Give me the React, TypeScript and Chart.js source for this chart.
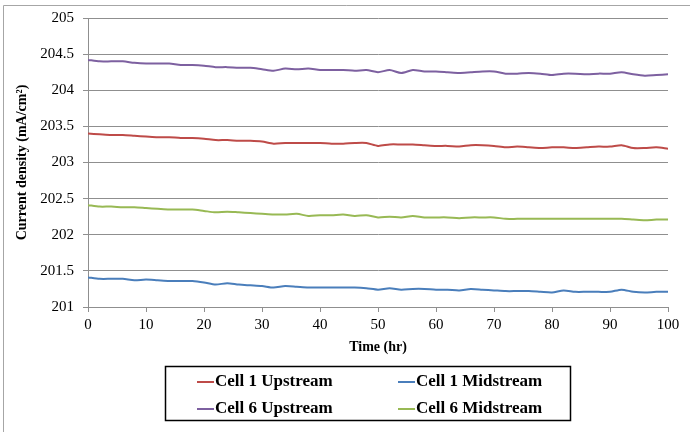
import React, { useEffect, useRef } from "react";
import { Chart, registerables } from "chart.js";

Chart.register(...registerables);

const hours = [0, 2, 4, 6, 8, 10, 12, 14, 16, 18, 20, 22, 24, 26, 28, 30, 32, 34, 36, 38, 40, 42, 44, 46, 48, 50, 52, 54, 56, 58, 60, 62, 64, 66, 68, 70, 72, 74, 76, 78, 80, 82, 84, 86, 88, 90, 92, 94, 96, 98, 100];

const cell1Upstream = [203.40, 203.39, 203.38, 203.38, 203.37, 203.36, 203.35, 203.35, 203.34, 203.34, 203.33, 203.31, 203.31, 203.30, 203.30, 203.29, 203.26, 203.27, 203.27, 203.27, 203.27, 203.26, 203.26, 203.27, 203.27, 203.23, 203.25, 203.25, 203.25, 203.24, 203.23, 203.23, 203.22, 203.24, 203.24, 203.23, 203.21, 203.22, 203.21, 203.20, 203.21, 203.21, 203.20, 203.21, 203.22, 203.22, 203.24, 203.20, 203.20, 203.21, 203.19];

const cell1Midstream = [201.41, 201.39, 201.39, 201.39, 201.37, 201.38, 201.37, 201.36, 201.36, 201.36, 201.34, 201.31, 201.33, 201.31, 201.30, 201.29, 201.27, 201.29, 201.28, 201.27, 201.27, 201.27, 201.27, 201.27, 201.26, 201.24, 201.26, 201.24, 201.25, 201.25, 201.24, 201.24, 201.23, 201.25, 201.24, 201.23, 201.22, 201.22, 201.22, 201.21, 201.20, 201.23, 201.21, 201.21, 201.21, 201.21, 201.24, 201.21, 201.20, 201.21, 201.21];

const cell6Upstream = [204.42, 204.40, 204.40, 204.40, 204.38, 204.37, 204.37, 204.37, 204.35, 204.35, 204.34, 204.32, 204.32, 204.31, 204.31, 204.29, 204.27, 204.30, 204.29, 204.30, 204.28, 204.28, 204.28, 204.27, 204.28, 204.25, 204.28, 204.24, 204.28, 204.26, 204.26, 204.25, 204.24, 204.25, 204.26, 204.26, 204.23, 204.23, 204.24, 204.23, 204.21, 204.23, 204.23, 204.22, 204.23, 204.23, 204.25, 204.22, 204.20, 204.21, 204.22];

const cell6Midstream = [202.41, 202.39, 202.39, 202.38, 202.38, 202.37, 202.36, 202.35, 202.35, 202.35, 202.33, 202.31, 202.32, 202.31, 202.30, 202.29, 202.28, 202.28, 202.29, 202.26, 202.27, 202.27, 202.28, 202.26, 202.27, 202.24, 202.25, 202.24, 202.26, 202.24, 202.24, 202.24, 202.23, 202.24, 202.24, 202.24, 202.22, 202.22, 202.22, 202.22, 202.22, 202.22, 202.22, 202.22, 202.22, 202.22, 202.22, 202.21, 202.20, 202.21, 202.21];

const seriesNames = ["Cell 1 Upstream", "Cell 1 Midstream", "Cell 6 Upstream", "Cell 6 Midstream"];
const seriesColors = ["#BE4B48", "#4A7EBB", "#7D60A0", "#98B954"];
const xTicks = [0, 10, 20, 30, 40, 50, 60, 70, 80, 90, 100];
const yTicks = [201, 201.5, 202, 202.5, 203, 203.5, 204, 204.5, 205];
const yTickLabels = ["201", "201.5", "202", "202.5", "203", "203.5", "204", "204.5", "205"];
const xTitle = "Time (hr)";
const yTitle = "Current density (mA/cm²)";

const SERIF = "'Liberation Serif', 'Times New Roman', serif";
const GRID = "#8f8f8f";

const framePlugin = {
  id: "frame",
  beforeDraw(chart: any) {
    const ctx = chart.ctx;
    ctx.save();
    ctx.fillStyle = "#ffffff";
    ctx.fillRect(0, 0, chart.width, chart.height);
    ctx.strokeStyle = "#a6a6a6";
    ctx.lineWidth = 1;
    ctx.beginPath();
    ctx.moveTo(3.5, chart.height);
    ctx.lineTo(3.5, 5.5);
    ctx.lineTo(690, 5.5);
    ctx.stroke();
    ctx.restore();
  },
};

const boxLegendPlugin = {
  id: "boxLegend",
  afterDraw(chart: any) {
    const ctx = chart.ctx;
    ctx.save();
    const bx = 165.5, by = 366.5, bw = 405, bh = 54;
    ctx.strokeStyle = "#000";
    ctx.lineWidth = 1.5;
    ctx.strokeRect(bx, by, bw, bh);
    ctx.font = `bold 17px ${SERIF}`;
    ctx.textBaseline = "middle";
    ctx.textAlign = "left";
    const cols = [197, 398];
    const rows = [382, 409];
    chart.data.datasets.forEach((ds: any, i: number) => {
      const x = cols[i % 2];
      const y = rows[Math.floor(i / 2)];
      ctx.strokeStyle = ds.borderColor;
      ctx.lineWidth = 2;
      ctx.beginPath();
      ctx.moveTo(x, y);
      ctx.lineTo(x + 17, y);
      ctx.stroke();
      ctx.fillStyle = "#000";
      ctx.fillText(ds.label, x + 18, y);
    });
    ctx.restore();
  },
};

export default function App() {
  const ref = useRef<HTMLCanvasElement>(null);

  useEffect(() => {
    if (!ref.current) return;
    const seriesValues = [cell1Upstream, cell1Midstream, cell6Upstream, cell6Midstream];
    const chart = new Chart(ref.current, {
      type: "line",
      data: {
        datasets: seriesNames.map((name, i) => ({
          label: name,
          data: hours.map((h, j) => ({ x: h, y: seriesValues[i][j] })),
          borderColor: seriesColors[i],
          backgroundColor: seriesColors[i],
          borderWidth: 2,
          pointRadius: 0,
          tension: 0.25,
          fill: false,
        })),
      },
      options: {
        animation: false,
        responsive: false,
        layout: { padding: { left: 10, right: 30, top: 18, bottom: 72 } },
        plugins: {
          legend: { display: false },
          tooltip: { enabled: false },
        },
        scales: {
          x: {
            type: "linear",
            min: 0,
            max: 100,
            afterBuildTicks: (s: any) => {
              s.ticks = xTicks.map((v) => ({ value: v }));
            },
            afterFit: (s: any) => {
              s.height = 53;
            },
            grid: { drawOnChartArea: false, drawTicks: true, tickLength: 5, color: GRID },
            border: { color: GRID, width: 1 },
            ticks: {
              color: "#000",
              font: { family: SERIF, size: 15 },
              padding: 4,
              maxRotation: 0,
              callback: (v: any) => String(v),
            },
            title: { display: true, text: xTitle, color: "#000", font: { family: SERIF, size: 14, weight: "bold" } },
          },
          y: {
            type: "linear",
            min: 201,
            max: 205,
            afterBuildTicks: (s: any) => {
              s.ticks = yTicks.map((v) => ({ value: v }));
            },
            afterFit: (s: any) => {
              s.width = 78;
            },
            grid: { color: GRID, tickLength: 5 },
            border: { color: GRID, width: 1 },
            ticks: {
              color: "#000",
              font: { family: SERIF, size: 15 },
              padding: 9,
              callback: (v: any) => {
                const k = yTicks.indexOf(Number(v));
                return k >= 0 ? yTickLabels[k] : String(v);
              },
            },
            title: { display: true, text: yTitle, color: "#000", font: { family: SERIF, size: 14, weight: "bold" } },
          },
        },
      },
      plugins: [framePlugin, boxLegendPlugin],
    } as any);
    return () => chart.destroy();
  }, []);

  return (
    <div style={{ position: "absolute", left: 0, top: 0, width: 698, height: 432 }}>
      <canvas ref={ref} width={698} height={432} style={{ display: "block" }} />
    </div>
  );
}
